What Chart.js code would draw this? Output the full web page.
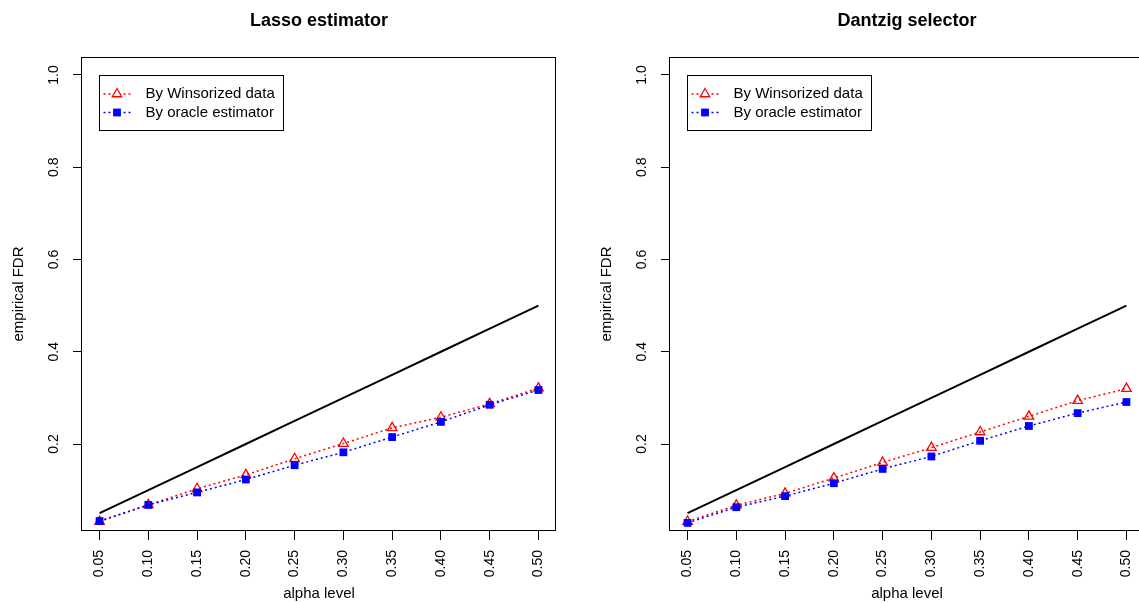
<!DOCTYPE html>
<html>
<head>
<meta charset="utf-8">
<title>Empirical FDR</title>
<script src="https://cdn.jsdelivr.net/npm/chart.js@4.4.0/dist/chart.umd.min.js"></script>
<style>
  html, body { margin: 0; padding: 0; background: #fff; overflow: hidden; }
  body { width: 1139px; height: 603px; position: relative; }
  .panel { position: absolute; top: 0; width: 576px; height: 603px; }
</style>
</head>
<body>
<div class="panel" style="left:0"><canvas id="lassoChart" width="576" height="603"></canvas></div>
<div class="panel" style="left:588px"><canvas id="dantzigChart" width="576" height="603"></canvas></div>
<script>
// x axis: alpha levels
const alphaLevels = [0.05, 0.10, 0.15, 0.20, 0.25, 0.30, 0.35, 0.40, 0.45, 0.50];
const alphaLabels = ['0.05', '0.10', '0.15', '0.20', '0.25', '0.30', '0.35', '0.40', '0.45', '0.50'];

// y axis ticks
const fdrTicks = [0.2, 0.4, 0.6, 0.8, 1.0];
const fdrLabels = ['0.2', '0.4', '0.6', '0.8', '1.0'];

// Lasso estimator
const lassoWinsorized = [0.032, 0.068, 0.103, 0.133, 0.168, 0.201, 0.235, 0.258, 0.287, 0.321];
const lassoOracle = [0.033, 0.068, 0.095, 0.123, 0.154, 0.182, 0.215, 0.248, 0.285, 0.317];

// Dantzig selector
const dantzigWinsorized = [0.032, 0.067, 0.093, 0.126, 0.160, 0.192, 0.226, 0.260, 0.294, 0.320];
const dantzigOracle = [0.029, 0.063, 0.087, 0.115, 0.146, 0.173, 0.207, 0.239, 0.267, 0.291];

const FONT = '"Liberation Sans", Arial, Helvetica, sans-serif';

// plot box + R style legend in the top left corner
const boxAndLegend = {
  id: 'boxAndLegend',
  afterDatasetsDraw(chart) {
    const { ctx, chartArea: a } = chart;
    ctx.save();
    ctx.strokeStyle = '#000';
    ctx.lineWidth = 1;
    ctx.setLineDash([]);
    ctx.strokeRect(a.left - 0.5, a.top + 0.5, a.right - a.left, a.bottom - a.top - 1);

    const lx = Math.round(a.left + 17) + 0.5;
    const ly = Math.round(a.top + 18) + 0.5;
    ctx.strokeRect(lx, ly, 184, 55);

    const items = chart.data.datasets.filter(d => d.label);
    items.forEach((d, i) => {
      const y = ly + 18.5 + i * 18.5;
      ctx.strokeStyle = d.borderColor;
      ctx.lineWidth = d.borderWidth;
      ctx.setLineDash(d.borderDash || []);
      ctx.beginPath();
      ctx.moveTo(lx + 4, y);
      ctx.lineTo(lx + 31, y);
      ctx.stroke();
      ctx.setLineDash([]);
      const mx = lx + 17.5;
      const r = d.pointRadius;
      ctx.beginPath();
      if (d.pointStyle === 'triangle') {
        ctx.fillStyle = '#fff';
        ctx.moveTo(mx, y - r);
        ctx.lineTo(mx + r * 0.866, y + r / 2);
        ctx.lineTo(mx - r * 0.866, y + r / 2);
        ctx.closePath();
        ctx.fill();
        ctx.strokeStyle = d.pointBorderColor;
        ctx.lineWidth = d.pointBorderWidth;
        ctx.stroke();
      } else {
        const s = r * Math.SQRT1_2;
        ctx.fillStyle = d.pointBackgroundColor;
        ctx.fillRect(mx - s, y - s, 2 * s, 2 * s);
      }
      ctx.fillStyle = '#000';
      ctx.font = '15px ' + FONT;
      ctx.textBaseline = 'middle';
      ctx.textAlign = 'left';
      ctx.fillText(d.label, lx + 46, y);
    });
    ctx.restore();
  }
};

function makeChart(id, title, winsorized, oracle) {
  const ctx = document.getElementById(id).getContext('2d');
  return new Chart(ctx, {
    type: 'line',
    data: {
      datasets: [{
        label: 'By Winsorized data',
        data: alphaLevels.map((a, i) => ({ x: a, y: winsorized[i] })),
        borderColor: '#ff0000',
        borderWidth: 1.5,
        borderDash: [2, 3],
        pointStyle: 'triangle',
        pointRadius: 5.5,
        pointBorderColor: '#ff0000',
        pointBackgroundColor: 'rgba(255,255,255,0)',
        pointBorderWidth: 1.3,
        order: 1
      }, {
        label: 'By oracle estimator',
        data: alphaLevels.map((a, i) => ({ x: a, y: oracle[i] })),
        borderColor: '#0000ff',
        borderWidth: 1.5,
        borderDash: [2, 3],
        pointStyle: 'rect',
        pointRadius: 5.5,
        pointBorderColor: '#0000ff',
        pointBackgroundColor: '#0000ff',
        pointBorderWidth: 0,
        order: 0
      }, {
        label: '',
        // nominal level: FDR = alpha
        data: alphaLevels.map(a => ({ x: a, y: a })),
        borderColor: '#000',
        borderWidth: 2,
        pointRadius: 0,
        order: 2
      }]
    },
    options: {
      responsive: false,
      animation: false,
      events: [],
      elements: { line: { tension: 0 } },
      layout: { padding: { left: 0, right: 20, top: 0, bottom: 0 } },
      plugins: {
        legend: { display: false },
        tooltip: { enabled: false },
        title: {
          display: true,
          text: title,
          fullSize: false,
          color: '#000',
          font: { family: FONT, size: 18, weight: 'bold' },
          padding: { top: 10, bottom: 25.4 }
        }
      },
      scales: {
        x: {
          type: 'linear',
          min: 0.032,
          max: 0.518,
          afterBuildTicks: s => { s.ticks = alphaLevels.map(v => ({ value: v })); },
          afterFit: s => { s.height = 72; },
          grid: { display: true, drawOnChartArea: false, drawTicks: true, tickLength: 9, color: '#000', lineWidth: 1 },
          border: { display: false },
          ticks: {
            autoSkip: false,
            minRotation: 90,
            maxRotation: 90,
            padding: 10,
            color: '#000',
            font: { family: FONT, size: 14 },
            callback: (v, i) => alphaLabels[i]
          },
          title: {
            display: true,
            text: 'alpha level',
            color: '#000',
            font: { family: FONT, size: 15 },
            padding: { top: 0, bottom: 0 }
          }
        },
        y: {
          type: 'linear',
          min: 0.0114,
          max: 1.039,
          afterBuildTicks: s => { s.ticks = fdrTicks.map(v => ({ value: v })); },
          afterFit: s => { s.width = 82; },
          grid: { display: true, drawOnChartArea: false, drawTicks: true, tickLength: 9, color: '#000', lineWidth: 1 },
          border: { display: false },
          ticks: {
            minRotation: 90,
            maxRotation: 90,
            crossAlign: 'center',
            padding: 9,
            color: '#000',
            font: { family: FONT, size: 14 },
            callback: (v, i) => fdrLabels[i]
          },
          title: {
            display: true,
            text: 'empirical FDR',
            color: '#000',
            font: { family: FONT, size: 15 },
            padding: { top: 10, bottom: 0 }
          }
        }
      }
    },
    plugins: [boxAndLegend]
  });
}

makeChart('lassoChart', 'Lasso estimator', lassoWinsorized, lassoOracle);
makeChart('dantzigChart', 'Dantzig selector', dantzigWinsorized, dantzigOracle);
</script>
</body>
</html>
